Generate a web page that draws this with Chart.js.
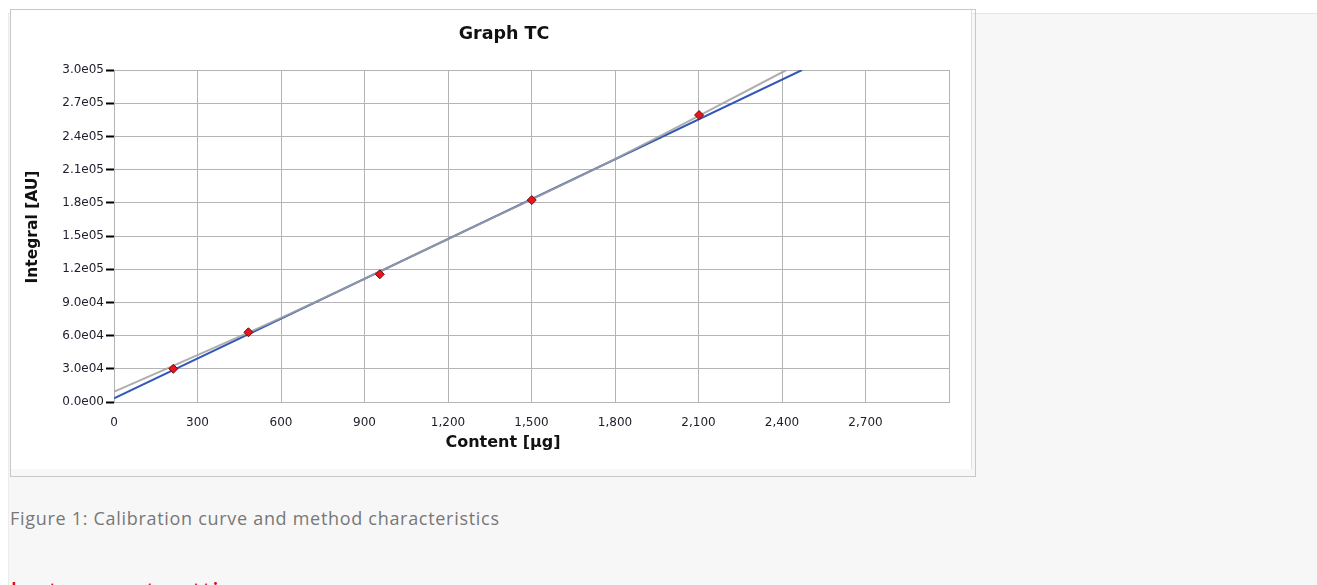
<!DOCTYPE html>
<html>
<head>
<meta charset="utf-8">
<script src="https://cdn.jsdelivr.net/npm/chart.js@4.4.1/dist/chart.umd.min.js"></script>
<style>
  html, body { margin: 0; padding: 0; background: #fff; overflow: hidden; }
  body { width: 1317px; height: 585px; position: relative; }
  .panel {
    position: absolute; left: 8px; top: 13px; right: 0; bottom: 0;
    background: #f7f7f7; border-top: 1px solid #e6e6e6; border-left: 1px solid #ececec;
  }
  .frame {
    position: absolute; left: 10px; top: 9px; width: 966px; height: 468px;
    box-sizing: border-box; border: 1px solid #c8c8c8;
  }
  .chart-box {
    position: absolute; left: 11px; top: 10px; width: 960px; height: 459px;
    background: #fff; border-right: 1px solid #e0e0e0;
  }
  .caption {
    position: absolute; left: 10px; top: 506px;
    font-family: "Open Sans", sans-serif; font-size: 18px; letter-spacing: 0.7px; color: #777;
  }
  .heading {
    position: absolute; left: 10px; top: 572px;
    font-family: "Open Sans", sans-serif; font-size: 28px; color: #e2001a;
  }
</style>
</head>
<body>
<div class="panel"></div>
<div class="frame"></div>
<div class="chart-box"><canvas id="calChart"></canvas></div>
<div class="caption">Figure 1: Calibration curve and method characteristics</div>
<div class="heading">Instrument settings</div>

<script>
// measured standards
const contents = [213, 483, 955, 1501, 2102];
const integrals = [30000, 63000, 115400, 182500, 259300];

// linear fit (blue) - ends
const fitX = [0, 2472];
const fitY = [3300, 300000];

// second curve (gray)
const grayX = [0, 600, 1200, 1800, 2416];
const grayY = [9300, 76000, 147300, 219500, 300000];

const chartTitle = "Graph TC";
const xTitle = "Content [µg]";
const yTitle = "Integral [AU]";

const toPoints = (xs, ys) => xs.map((x, i) => ({ x: x, y: ys[i] }));

const fmtExp = (v) => {
  const parts = Number(v).toExponential(1).split("e");
  return parts[0] + "e" + String(Math.abs(parseInt(parts[1]))).padStart(2, "0");
};

// draws the three titles where the original graph has them
const titlesPlugin = {
  id: "titles",
  afterDraw(chart) {
    const ctx = chart.ctx;
    ctx.save();
    ctx.fillStyle = "#111";
    ctx.textAlign = "center";
    ctx.textBaseline = "middle";
    ctx.font = "bold 17.5px 'DejaVu Sans', sans-serif";
    ctx.fillText(chartTitle, 493, 24);
    ctx.font = "bold 16px 'DejaVu Sans', sans-serif";
    ctx.fillText(xTitle, 492, 433);
    ctx.translate(22, 217);
    ctx.rotate(-Math.PI / 2);
    ctx.font = "bold 15.5px 'DejaVu Sans', sans-serif";
    ctx.fillText(yTitle, 0, 0);
    ctx.restore();
  },
};

const gridColor = "#b4b4b4";
const tickFont = { family: "'DejaVu Sans', sans-serif", size: 12 };

new Chart(document.getElementById("calChart"), {
  type: "scatter",
  data: {
    datasets: [
      {
        label: "Standards",
        data: toPoints(contents, integrals),
        pointStyle: "rectRot",
        pointRadius: 4.5,
        backgroundColor: "#e8161b",
        borderColor: "#6b0a0a",
        borderWidth: 1,
        showLine: false,
        order: 0,
      },
      {
        label: "Curve",
        data: toPoints(grayX, grayY),
        showLine: true,
        borderColor: "rgba(160,160,160,0.85)",
        borderWidth: 2,
        pointRadius: 0,
        cubicInterpolationMode: "monotone",
        order: 1,
      },
      {
        label: "Linear fit",
        data: toPoints(fitX, fitY),
        showLine: true,
        borderColor: "#3357b8",
        borderWidth: 2,
        pointRadius: 0,
        order: 2,
      },
    ],
  },
  options: {
    responsive: true,
    maintainAspectRatio: false,
    animation: false,
    layout: { padding: { top: 60, right: 22, left: 0, bottom: 0 } },
    plugins: {
      legend: { display: false },
      tooltip: { enabled: false },
      title: { display: false },
    },
    scales: {
      x: {
        type: "linear",
        min: 0,
        max: 3000,
        afterFit: (scale) => { scale.height = 67; },
        grid: { color: gridColor, drawTicks: false },
        border: { color: gridColor },
        ticks: {
          stepSize: 300,
          padding: 14,
          color: "#1d1d2b",
          font: tickFont,
          maxRotation: 0,
          callback: (v) => (v >= 3000 ? "" : v.toLocaleString("en-US")),
        },
      },
      y: {
        type: "linear",
        min: 0,
        max: 300000,
        afterFit: (scale) => { scale.width = 103; },
        grid: {
          color: gridColor,
          tickColor: "#000",
          tickWidth: 2,
          tickLength: 8,
        },
        border: { color: gridColor },
        ticks: {
          stepSize: 30000,
          padding: 2,
          color: "#1d1d2b",
          font: tickFont,
          callback: (v) => fmtExp(v),
        },
      },
    },
  },
  plugins: [titlesPlugin],
});
</script>
</body>
</html>
